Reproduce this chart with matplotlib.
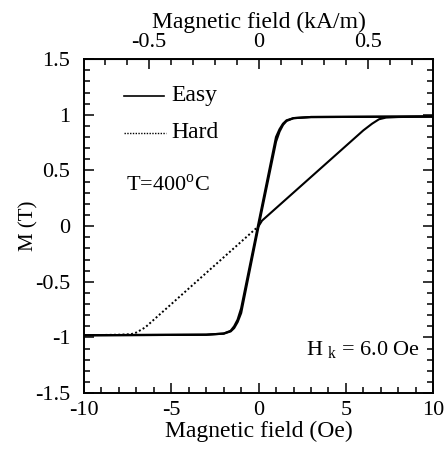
import numpy as np
import matplotlib
matplotlib.use('Agg')
import matplotlib.pyplot as plt
from matplotlib.ticker import MultipleLocator

plt.rcParams['font.family'] = ['Liberation Serif', 'DejaVu Serif']
plt.rcParams['axes.unicode_minus'] = False
plt.rcParams['font.size'] = 17

# easy axis loop (two sweep branches), H in Oe, M in T
easy_up_h = [-10, -3, -2, -1.6, -1.4, -1.2, -1.0, 0.0, 1.0, 1.2, 1.4, 1.6, 2, 3, 10]
easy_up_m = [-0.98, -0.975, -0.965, -0.945, -0.915, -0.86, -0.78, 0.0, 0.76, 0.85, 0.91, 0.945, 0.97, 0.98, 0.985]
easy_dn_h = [10, 3, 2, 1.6, 1.4, 1.2, 1.0, 0.0, -1.0, -1.2, -1.4, -1.6, -2, -3, -10]
easy_dn_m = [0.985, 0.98, 0.97, 0.95, 0.92, 0.87, 0.80, 0.03, -0.74, -0.84, -0.90, -0.94, -0.965, -0.975, -0.98]

# hard axis, negative branch (dotted) and positive branch
hard_neg_h = [-10, -8, -7.3, -7.0, -6.5, 0.0]
hard_neg_m = [-0.98, -0.975, -0.97, -0.955, -0.91, 0.0]
hard_pos_h = [0.0, 0.2, 6.0, 6.5, 6.9, 7.3, 8, 10]
hard_pos_m = [0.0, 0.05, 0.86, 0.92, 0.96, 0.975, 0.98, 0.985]

top_ticks = [-0.5, 0, 0.5]
top_labels = ['-0.5', '0', '0.5']
y_ticks = [-1.5, -1, -0.5, 0, 0.5, 1, 1.5]
y_labels = ['-1.5', '-1', '-0.5', '0', '0.5', '1', '1.5']

OE_TO_KAM = 0.0795775

fig = plt.figure(figsize=(4.47, 4.62), dpi=100)
ax = fig.add_axes([0.188, 0.149, 0.781, 0.723])

ax.plot(easy_up_h, easy_up_m, color='black', lw=1.6)
ax.plot(easy_dn_h, easy_dn_m, color='black', lw=1.6)
ax.plot(hard_neg_h, hard_neg_m, color='black', lw=1.4, ls=(0, (1, 1.2)))
ax.plot(hard_pos_h, hard_pos_m, color='black', lw=1.5)

ax.set_xlim(-10, 10)
ax.set_ylim(-1.5, 1.5)
ax.xaxis.set_major_locator(MultipleLocator(5))
ax.xaxis.set_minor_locator(MultipleLocator(1))
ax.yaxis.set_minor_locator(MultipleLocator(0.1))
ax.set_yticks(y_ticks)
ax.set_yticklabels(y_labels)
ax.tick_params(which='both', direction='in', right=True, top=False, width=1.1)
ax.tick_params(which='major', length=7, pad=6, labelsize=16)
ax.tick_params(which='minor', length=4)
ax.tick_params(axis='y', which='major', pad=10)
for s in ax.spines.values():
    s.set_linewidth(1.4)

ax.set_xlabel('Magnetic field (Oe)', labelpad=0)
ax.set_ylabel('M (T)', fontsize=15)
ax.yaxis.set_label_coords(-0.13, 0.5)

top = ax.secondary_xaxis('top', functions=(lambda x: x * OE_TO_KAM, lambda x: x / OE_TO_KAM))
top.set_xticks(top_ticks)
top.set_xticklabels(top_labels)
top.xaxis.set_minor_locator(MultipleLocator(0.1))
top.tick_params(which='both', direction='in', width=1.1)
top.tick_params(which='major', length=7, pad=5, labelsize=16)
top.tick_params(which='minor', length=4)
top.set_xlabel('Magnetic field (kA/m)', labelpad=4)

# legend drawn by hand as in the original
ax.plot([-7.7, -5.4], [1.17, 1.17], color='black', lw=1.2)
ax.text(-5.0, 1.17, 'Easy', va='center', ha='left')
ax.plot([-7.7, -5.3], [0.84, 0.84], color='black', lw=1.0, ls=(0, (1, 1)))
ax.text(-5.0, 0.84, 'Hard', va='center', ha='left')
ax.text(-7.6, 0.37, 'T=400$^\\mathregular{o}$C', va='center', ha='left', fontsize=16)
ax.text(2.7, -1.11, 'H$_\\mathregular{\\ k}$ = 6.0 Oe', va='center', ha='left', fontsize=16)

fig.savefig('out.png', dpi=100)
